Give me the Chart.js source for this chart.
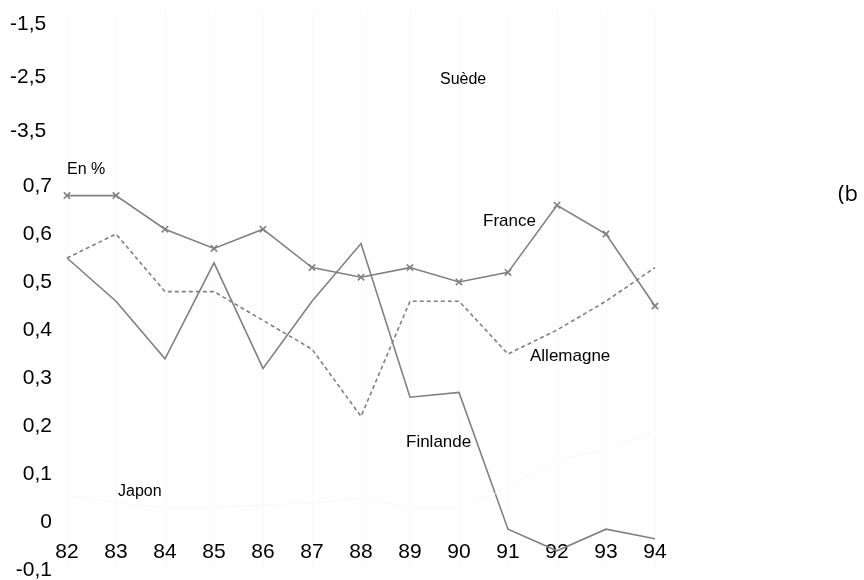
<!DOCTYPE html>
<html>
<head>
<meta charset="utf-8">
<script src="https://cdn.jsdelivr.net/npm/chart.js@4.4.1/dist/chart.umd.min.js"></script>
<style>
  html, body { margin: 0; padding: 0; background: #ffffff; }
  .wrap { position: relative; width: 864px; height: 580px; }
</style>
</head>
<body>
<div class="wrap"><canvas id="chart"></canvas></div>
<script>
const years = ["82", "83", "84", "85", "86", "87", "88", "89", "90", "91", "92", "93", "94"];

const france    = [0.68, 0.68, 0.61, 0.57, 0.61, 0.53, 0.51, 0.53, 0.50, 0.52, 0.66, 0.60, 0.45];
const allemagne = [0.55, 0.60, 0.48, 0.48, 0.42, 0.36, 0.22, 0.46, 0.46, 0.35, 0.40, 0.46, 0.53];
const finlande  = [0.55, 0.46, 0.34, 0.54, 0.32, 0.46, 0.58, 0.26, 0.27, -0.015, -0.06, -0.015, -0.035];
const japon     = [0.056, 0.04, 0.03, 0.03, 0.035, 0.04, 0.05, 0.03, 0.03, 0.07, 0.13, 0.15, 0.19];

// leftover labels at the top come from another panel, the rest is the real scale
const yTickValues = [1.0375, 0.927, 0.815, 0.7, 0.6, 0.5, 0.4, 0.3, 0.2, 0.1, 0, -0.1];
const yTickLabels = ["-1,5 ", "-2,5 ", "-3,5 ", "0,7", "0,6", "0,5", "0,4", "0,3", "0,2", "0,1", "0", "-0,1"];

const seriesNames = ["France", "Allemagne", "Finlande", "Japon"];

const GREY = "#808080";
const FONT = "'Liberation Sans', Arial, sans-serif";

// free text on the figure (series names, unit, cut panel letter)
const notes = [
  { text: "En %",      x: 67,  y: 170, size: 16 },
  { text: "Suède",     x: 440, y: 80,  size: 16 },
  { text: "France",    x: 483, y: 221, size: 17 },
  { text: "Allemagne", x: 530, y: 356, size: 17 },
  { text: "Finlande",  x: 406, y: 442, size: 17 },
  { text: "Japon",     x: 118, y: 492, size: 16 },
  { text: "(b",        x: 838, y: 195, size: 22, family: "'Open Sans', sans-serif" }
];

const notesPlugin = {
  id: "notes",
  afterDraw(chart) {
    const ctx = chart.ctx;
    ctx.save();
    ctx.fillStyle = "#000";
    ctx.textBaseline = "middle";
    ctx.textAlign = "left";
    notes.forEach(n => {
      ctx.font = `${n.size}px ${n.family || FONT}`;
      ctx.fillText(n.text, n.x, n.y);
    });
    ctx.restore();
  }
};

new Chart(document.getElementById("chart"), {
  type: "line",
  data: {
    labels: years,
    datasets: [
      {
        label: seriesNames[3],
        data: japon,
        borderColor: "#f8f8f8",
        borderWidth: 1,
        pointRadius: 0,
        tension: 0
      },
      {
        label: seriesNames[2],
        data: finlande,
        borderColor: GREY,
        borderWidth: 1.6,
        pointRadius: 0,
        tension: 0
      },
      {
        label: seriesNames[1],
        data: allemagne,
        borderColor: GREY,
        borderWidth: 1.6,
        borderDash: [4, 3],
        pointRadius: 0,
        tension: 0
      },
      {
        label: seriesNames[0],
        data: france,
        borderColor: GREY,
        borderWidth: 1.6,
        pointStyle: "crossRot",
        pointRadius: 4.5,
        pointBorderWidth: 1.6,
        pointBorderColor: GREY,
        pointBackgroundColor: GREY,
        tension: 0
      }
    ]
  },
  options: {
    responsive: true,
    maintainAspectRatio: false,
    animation: false,
    layout: { padding: { top: 10, bottom: 10, left: 0, right: 209 } },
    plugins: {
      legend: { display: false },
      tooltip: { enabled: false }
    },
    scales: {
      x: {
        position: { y: 0 },
        offset: false,
        border: { display: false },
        grid: { color: "#f9f9f9", drawTicks: false },
        afterFit(axis) { axis.height = 0; axis.paddingLeft = 0; axis.paddingRight = 0; },
        ticks: {
          color: "#000",
          font: { family: FONT, size: 21 },
          padding: 18,
          maxRotation: 0,
          autoSkip: false
        }
      },
      y: {
        min: -0.1,
        max: -0.1 + 560 / 480,
        border: { display: false },
        grid: { display: false, drawTicks: false },
        afterFit(axis) { axis.width = 67; axis.paddingTop = 0; axis.paddingBottom = 0; },
        afterBuildTicks(axis) {
          axis.ticks = yTickValues.map(v => ({ value: v }));
        },
        ticks: {
          color: "#000",
          font: { family: FONT, size: 21 },
          padding: 15,
          callback: (value, index) => yTickLabels[index]
        }
      }
    }
  },
  plugins: [notesPlugin]
});
</script>
</body>
</html>
